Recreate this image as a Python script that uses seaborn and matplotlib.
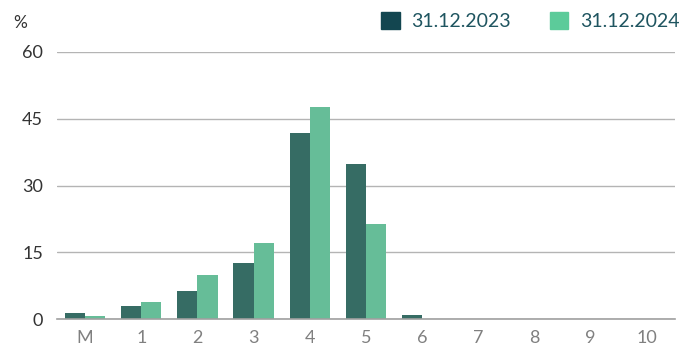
import matplotlib
matplotlib.use("Agg")
import matplotlib.pyplot as plt
import matplotlib.patches as mpatches
import seaborn as sns
import pandas as pd

categories = ["M", "1", "2", "3", "4", "5", "6", "7", "8", "9", "10"]
series_names = ["31.12.2023", "31.12.2024"]
values_2023 = [1.3, 3.0, 6.4, 12.5, 41.8, 34.8, 1.0, 0.1, 0.1, 0.1, 0.1]
values_2024 = [0.6, 3.9, 9.8, 17.0, 47.7, 21.3, 0.1, 0.1, 0.1, 0.1, 0.1]
y_ticks = [0, 15, 30, 45, 60]

bar_colors = ["#366c64", "#66bd98"]
legend_colors = ["#134650", "#5ccb9a"]

df = pd.DataFrame({
    "cat": categories * 2,
    "val": values_2023 + values_2024,
    "series": [series_names[0]] * len(categories) + [series_names[1]] * len(categories),
})

sns.set_theme(style="white")
plt.rcParams["font.family"] = ["Lato", "DejaVu Sans"]

fig = plt.figure(figsize=(6.83, 3.49), dpi=100)
ax = fig.add_axes([57 / 683, 1 - 319 / 349, (675 - 57) / 683, (319 - 52) / 349])

sns.barplot(data=df, x="cat", y="val", hue="series", order=categories,
            hue_order=series_names, palette=bar_colors, width=0.72,
            saturation=1, linewidth=0, ax=ax, legend=False)

ax.set_ylim(0, 60)
ax.set_xlim(-0.5, len(categories) - 0.5)
ax.set_yticks(y_ticks)
ax.yaxis.grid(True, color="#b4b4b4", linewidth=1.0)
ax.set_axisbelow(True)
for s in ["top", "right", "left"]:
    ax.spines[s].set_visible(False)
ax.spines["bottom"].set_color("#a0a0a0")
ax.spines["bottom"].set_linewidth(1.2)
ax.set_xlabel("")
ax.set_ylabel("")
ax.tick_params(axis="x", length=0, pad=8, labelsize=13, labelcolor="#808080")
ax.tick_params(axis="y", length=0, pad=10, labelsize=13, labelcolor="#333333")
for lbl in ax.get_yticklabels():
    lbl.set_horizontalalignment("right")

fig.text(20 / 683, 1 - 23 / 349, "%", fontsize=12.5, color="#333333", ha="center", va="center")

handles = [mpatches.Patch(color=c, label=n) for c, n in zip(legend_colors, series_names)]
leg = fig.legend(handles=handles, loc="center right", bbox_to_anchor=(697 / 683, 1 - 21 / 349),
                 ncol=2, frameon=False, fontsize=14, handlelength=0.95, handleheight=1.0,
                 columnspacing=2.0, handletextpad=0.6)
for t in leg.get_texts():
    t.set_color("#1f5560")

fig.savefig("out.png", dpi=100)
